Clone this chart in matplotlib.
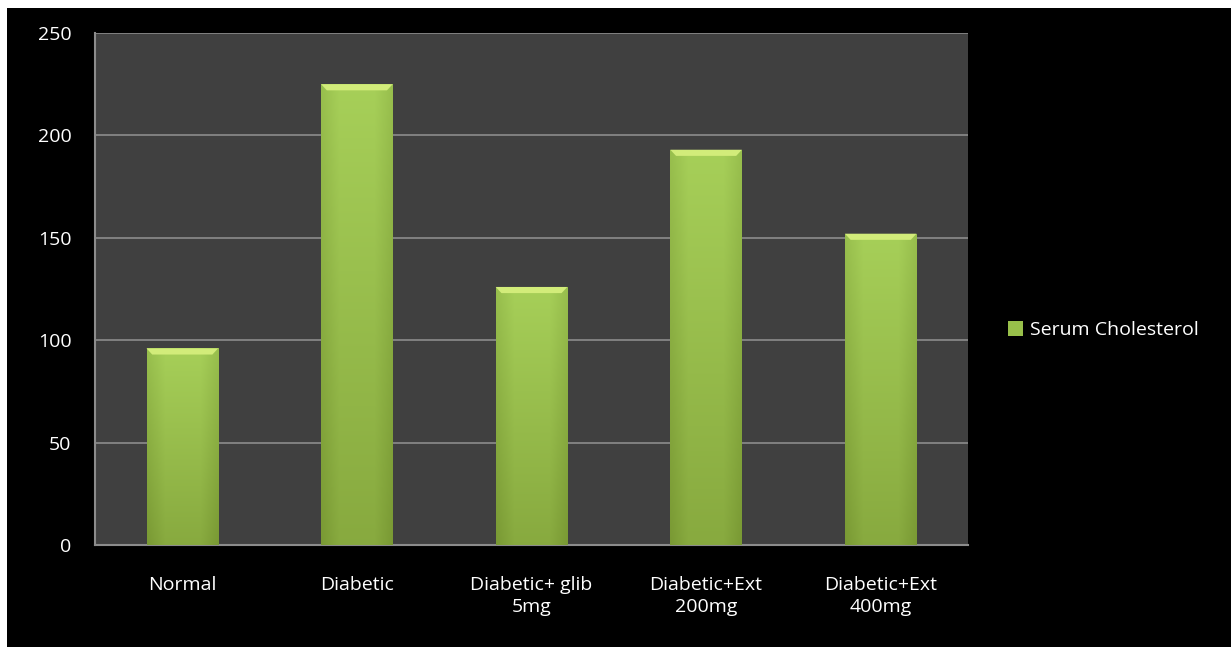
import numpy as np
import matplotlib.pyplot as plt
from matplotlib.patches import Rectangle, Polygon
from matplotlib.colors import LinearSegmentedColormap

categories = ['Normal', 'Diabetic', 'Diabetic+ glib\n5mg', 'Diabetic+Ext\n200mg', 'Diabetic+Ext\n400mg']
cholesterol = [96, 225, 126, 193, 152]
yticks = [0, 50, 100, 150, 200, 250]

plt.rcParams['font.family'] = ['Open Sans', 'DejaVu Sans']

fig = plt.figure(figsize=(12.31, 6.47), dpi=100)
fig.patch.set_facecolor('white')
# black chart area inside a thin white frame on top/left
fig.add_artist(Rectangle((7 / 1231, 0), 1, 1 - 8 / 647, transform=fig.transFigure,
                         facecolor='black', edgecolor='none', zorder=-10))

ax = fig.add_axes([95 / 1231, 1 - 545 / 647, 873 / 1231, 512 / 647])
ax.set_facecolor('#404040')
ax.set_ylim(0, 250)
ax.set_xlim(-0.5, len(categories) - 0.5)

ax.set_yticks(yticks)
ax.yaxis.grid(True, color='#8c8c8c', linewidth=1.2)
ax.set_axisbelow(True)
for side in ['top', 'right']:
    ax.spines[side].set_visible(False)
for side in ['left', 'bottom']:
    ax.spines[side].set_color('#8c8c8c')
    ax.spines[side].set_linewidth(1.5)
ax.tick_params(axis='both', length=0, colors='white', labelsize=14)
ax.tick_params(axis='y', pad=17)
ax.tick_params(axis='x', pad=22)
x = np.arange(len(categories))
ax.set_xticks(x)
ax.set_xticklabels(categories, linespacing=1.35)

width = 0.41
bars = ax.bar(x, cholesterol, width, color='#98c04a', edgecolor='none', zorder=2,
              label='Serum Cholesterol')

# vertical gradient fill plus a light bevel on top
grad_cmap = LinearSegmentedColormap.from_list('g', ['#7d9d36', '#a6cf58'])
side_cmap = LinearSegmentedColormap.from_list('s', ['#6f8f2e', '#a8d05a', '#a8d05a', '#a8d05a', '#6f8f2e'])
for b in bars:
    x0, w, h = b.get_x(), b.get_width(), b.get_height()
    g = np.linspace(0, 1, 200).reshape(-1, 1)
    s = np.linspace(0, 1, 60).reshape(1, -1)
    vert = grad_cmap(np.repeat(g, 60, axis=1))
    edge = side_cmap(np.repeat(s, 200, axis=0))
    img = vert * 0.75 + edge * 0.25
    im = ax.imshow(img, extent=[x0, x0 + w, 0, h], origin='lower', aspect='auto', zorder=3)
    im.set_clip_path(b)
    bev = 3.0
    dx = w * 0.08
    ax.add_patch(Polygon([[x0, h], [x0 + w, h], [x0 + w - dx, h - bev], [x0 + dx, h - bev]],
                         closed=True, facecolor='#d2ec7a', edgecolor='none', zorder=4))

leg = fig.legend(handles=[bars], labels=['Serum Cholesterol'], loc='center left',
                 bbox_to_anchor=(990 / 1231, 1 - 330 / 647), frameon=False,
                 fontsize=14, handlelength=0.8, handleheight=0.8, handletextpad=0.35)
for t in leg.get_texts():
    t.set_color('white')

fig.savefig('out.png', dpi=100, facecolor=fig.get_facecolor())
